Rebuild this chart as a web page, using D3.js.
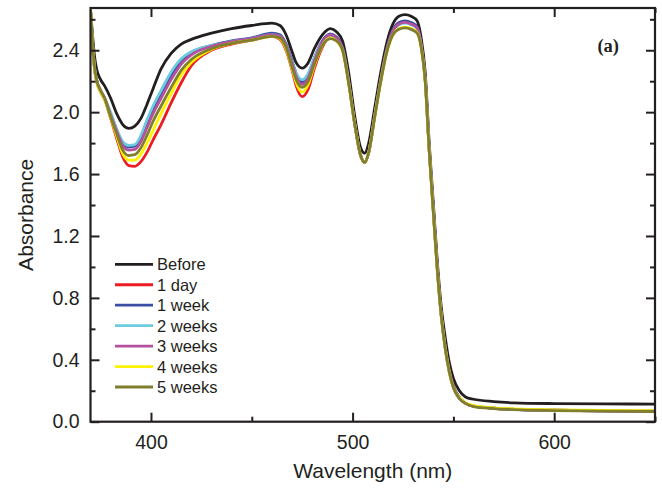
<!DOCTYPE html>
<html>
<head>
<meta charset="utf-8">
<script src="https://cdn.jsdelivr.net/npm/d3@7"></script>
<style>
  body { margin: 0; background: #fff; }
  text { font-family: "Liberation Sans", Arial, sans-serif; fill: #231f20; }
</style>
</head>
<body>
<div id="chart"></div>
<script>
// wavelength grid shared by every spectrum (nm)
const wavelength = [370, 371, 372, 373, 375, 377, 380, 383, 386, 389, 392, 395, 398, 401, 405, 410, 415, 420, 430, 440, 450, 460, 464, 467, 470, 472, 475, 478, 481, 485, 489, 492, 495, 498, 501, 504, 506, 508, 511, 514, 517, 520, 523, 526, 529, 532, 534, 536, 538, 540, 542, 544, 546, 548, 550, 553, 556, 560, 570, 580, 600, 625, 650];

const before = [2.66, 2.50, 2.36, 2.28, 2.21, 2.17, 2.09, 1.99, 1.92, 1.895, 1.91, 1.96, 2.05, 2.15, 2.28, 2.38, 2.44, 2.47, 2.51, 2.54, 2.56, 2.575, 2.56, 2.50, 2.39, 2.32, 2.285, 2.32, 2.41, 2.50, 2.54, 2.52, 2.46, 2.26, 1.98, 1.77, 1.735, 1.80, 2.03, 2.26, 2.45, 2.57, 2.62, 2.63, 2.62, 2.59, 2.48, 2.26, 1.80, 1.42, 1.04, 0.74, 0.54, 0.38, 0.28, 0.20, 0.16, 0.145, 0.13, 0.122, 0.117, 0.115, 0.114];
const day1 = [2.67, 2.44, 2.28, 2.20, 2.13, 2.08, 1.96, 1.83, 1.71, 1.655, 1.65, 1.68, 1.74, 1.82, 1.92, 2.06, 2.19, 2.30, 2.40, 2.44, 2.465, 2.49, 2.47, 2.40, 2.27, 2.17, 2.10, 2.15, 2.28, 2.42, 2.49, 2.47, 2.41, 2.20, 1.93, 1.72, 1.675, 1.74, 1.98, 2.21, 2.41, 2.53, 2.575, 2.585, 2.575, 2.545, 2.44, 2.22, 1.76, 1.38, 1.00, 0.69, 0.48, 0.33, 0.23, 0.155, 0.12, 0.10, 0.087, 0.08, 0.074, 0.07, 0.068];
const week1 = [2.66, 2.45, 2.29, 2.21, 2.14, 2.09, 1.99, 1.885, 1.80, 1.775, 1.78, 1.83, 1.93, 2.02, 2.12, 2.24, 2.33, 2.385, 2.43, 2.46, 2.48, 2.51, 2.50, 2.44, 2.33, 2.25, 2.195, 2.24, 2.35, 2.46, 2.505, 2.485, 2.42, 2.21, 1.93, 1.72, 1.675, 1.74, 1.98, 2.21, 2.41, 2.53, 2.58, 2.59, 2.58, 2.55, 2.44, 2.22, 1.76, 1.38, 1.00, 0.69, 0.48, 0.33, 0.23, 0.155, 0.12, 0.10, 0.087, 0.08, 0.074, 0.07, 0.068];
const week2 = [2.66, 2.45, 2.29, 2.21, 2.14, 2.09, 2.00, 1.89, 1.81, 1.785, 1.79, 1.85, 1.95, 2.04, 2.14, 2.26, 2.345, 2.39, 2.43, 2.455, 2.475, 2.50, 2.49, 2.43, 2.32, 2.25, 2.21, 2.25, 2.35, 2.45, 2.49, 2.47, 2.41, 2.20, 1.93, 1.72, 1.675, 1.74, 1.98, 2.21, 2.40, 2.52, 2.565, 2.575, 2.565, 2.54, 2.43, 2.21, 1.76, 1.37, 0.99, 0.68, 0.47, 0.32, 0.22, 0.15, 0.12, 0.10, 0.087, 0.08, 0.074, 0.07, 0.068];
const week3 = [2.66, 2.45, 2.29, 2.21, 2.14, 2.09, 1.98, 1.875, 1.785, 1.755, 1.76, 1.81, 1.90, 1.99, 2.09, 2.21, 2.31, 2.37, 2.425, 2.455, 2.475, 2.50, 2.49, 2.43, 2.31, 2.23, 2.18, 2.22, 2.33, 2.45, 2.50, 2.48, 2.41, 2.20, 1.93, 1.72, 1.675, 1.74, 1.98, 2.21, 2.40, 2.52, 2.57, 2.58, 2.57, 2.545, 2.43, 2.21, 1.76, 1.37, 0.99, 0.68, 0.47, 0.32, 0.22, 0.15, 0.12, 0.10, 0.087, 0.08, 0.074, 0.07, 0.068];
const week4 = [2.67, 2.44, 2.28, 2.20, 2.13, 2.08, 1.965, 1.845, 1.73, 1.69, 1.69, 1.73, 1.80, 1.88, 1.99, 2.12, 2.24, 2.32, 2.405, 2.445, 2.465, 2.49, 2.475, 2.41, 2.28, 2.19, 2.13, 2.18, 2.30, 2.43, 2.48, 2.46, 2.40, 2.19, 1.93, 1.72, 1.675, 1.74, 1.97, 2.20, 2.39, 2.50, 2.54, 2.55, 2.54, 2.515, 2.42, 2.20, 1.75, 1.36, 0.98, 0.68, 0.47, 0.32, 0.22, 0.155, 0.122, 0.104, 0.09, 0.083, 0.077, 0.073, 0.071];
const week5 = [2.66, 2.45, 2.29, 2.21, 2.14, 2.09, 1.97, 1.86, 1.755, 1.72, 1.725, 1.77, 1.85, 1.94, 2.04, 2.16, 2.27, 2.34, 2.41, 2.445, 2.465, 2.49, 2.48, 2.42, 2.29, 2.21, 2.16, 2.20, 2.31, 2.43, 2.475, 2.46, 2.40, 2.19, 1.93, 1.72, 1.675, 1.74, 1.97, 2.20, 2.39, 2.50, 2.535, 2.545, 2.535, 2.51, 2.42, 2.20, 1.75, 1.36, 0.98, 0.68, 0.47, 0.32, 0.22, 0.15, 0.118, 0.098, 0.085, 0.078, 0.072, 0.068, 0.066];

const seriesNames = ["Before", "1 day", "1 week", "2 weeks", "3 weeks", "4 weeks", "5 weeks"];
const seriesValues = [before, day1, week1, week2, week3, week4, week5];
const seriesColors = ["#231f20", "#ed1c24", "#3a4fa3", "#6dcbe0", "#b3519e", "#fff200", "#7f7f2e"];

const yTicks = [0.0, 0.4, 0.8, 1.2, 1.6, 2.0, 2.4];
const xTicks = [400, 500, 600];

const margin = {top: 8, right: 7, bottom: 71.3, left: 90.5},
      width = 662 - margin.left - margin.right,
      height = 493 - margin.top - margin.bottom;

const svg = d3.select("#chart")
              .append("svg")
              .attr("width", 662)
              .attr("height", 493)
              .append("g")
              .attr("transform", `translate(${margin.left},${margin.top})`);

const x = d3.scaleLinear().domain([370, 650]).range([0, width]);
const y = d3.scaleLinear().domain([0, 2.673]).range([height, 0]);

svg.append("clipPath")
   .attr("id", "clip")
   .append("rect")
   .attr("width", width)
   .attr("height", height);

const line = d3.line()
               .x(d => x(d[0]))
               .y(d => y(d[1]))
               .curve(d3.curveMonotoneX);

const data = seriesNames.map((name, i) => ({
  name,
  color: seriesColors[i],
  points: wavelength.map((w, j) => [w, seriesValues[i][j]])
}));

svg.append("g")
   .attr("clip-path", "url(#clip)")
   .selectAll("path")
   .data(data)
   .enter()
   .append("path")
   .attr("fill", "none")
   .attr("stroke", d => d.color)
   .attr("stroke-width", 2.8)
   .attr("stroke-linejoin", "round")
   .attr("d", d => line(d.points));

// axes: ticks point inward, minor ticks halfway between labels
const minorX = d3.range(450, 651, 100);
const minorY = d3.range(0.2, 2.65, 0.4);

const axisStyle = g => {
  g.select(".domain").remove();
  g.selectAll("line").attr("stroke", "#231f20").attr("stroke-width", 2);
  g.selectAll("text").style("font-size", "19.5px").attr("fill", "#231f20");
};

svg.append("g")
   .attr("transform", `translate(0,${height})`)
   .call(d3.axisBottom(x).tickValues(xTicks).tickSize(-9).tickPadding(13).tickFormat(d3.format("d")))
   .call(axisStyle);
svg.append("g")
   .attr("transform", `translate(0,${height})`)
   .call(d3.axisBottom(x).tickValues(minorX).tickSize(-5).tickFormat(""))
   .call(axisStyle);

svg.append("g")
   .call(d3.axisTop(x).tickValues(xTicks).tickSize(-9).tickFormat(""))
   .call(axisStyle);
svg.append("g")
   .call(d3.axisTop(x).tickValues(minorX).tickSize(-5).tickFormat(""))
   .call(axisStyle);

svg.append("g")
   .call(d3.axisLeft(y).tickValues(yTicks).tickSize(-9).tickPadding(11).tickFormat(d3.format(".1f")))
   .call(axisStyle);
svg.append("g")
   .call(d3.axisLeft(y).tickValues(minorY).tickSize(-5).tickFormat(""))
   .call(axisStyle);

svg.append("g")
   .attr("transform", `translate(${width},0)`)
   .call(d3.axisRight(y).tickValues(yTicks).tickSize(-9).tickFormat(""))
   .call(axisStyle);
svg.append("g")
   .attr("transform", `translate(${width},0)`)
   .call(d3.axisRight(y).tickValues(minorY).tickSize(-5).tickFormat(""))
   .call(axisStyle);

svg.append("rect")
   .attr("width", width)
   .attr("height", height)
   .attr("fill", "none")
   .attr("stroke", "#231f20")
   .attr("stroke-width", 2.2);

svg.append("text")
   .attr("x", width / 2)
   .attr("y", height + 56)
   .attr("text-anchor", "middle")
   .style("font-size", "21px")
   .text("Wavelength (nm)");

svg.append("text")
   .attr("transform", `translate(${-57.5},${height / 2}) rotate(-90)`)
   .attr("text-anchor", "middle")
   .style("font-size", "21px")
   .text("Absorbance");

svg.append("text")
   .attr("x", 528.5)
   .attr("y", 44)
   .attr("text-anchor", "end")
   .style("font-family", "'Liberation Serif', 'Times New Roman', serif")
   .style("font-weight", "bold")
   .style("font-size", "18.5px")
   .text("(a)");

// legend
const legend = svg.append("g")
                  .attr("transform", "translate(24.5,256.3)");

const rows = legend.selectAll("g")
                   .data(data)
                   .enter()
                   .append("g")
                   .attr("transform", (d, i) => `translate(0,${i * 20.45})`);

rows.append("line")
    .attr("x1", 0)
    .attr("x2", 38)
    .attr("stroke", d => d.color)
    .attr("stroke-width", 2.8);

rows.append("text")
    .attr("x", 42)
    .attr("y", 6)
    .style("font-size", "16.5px")
    .text(d => d.name);
</script>
</body>
</html>
